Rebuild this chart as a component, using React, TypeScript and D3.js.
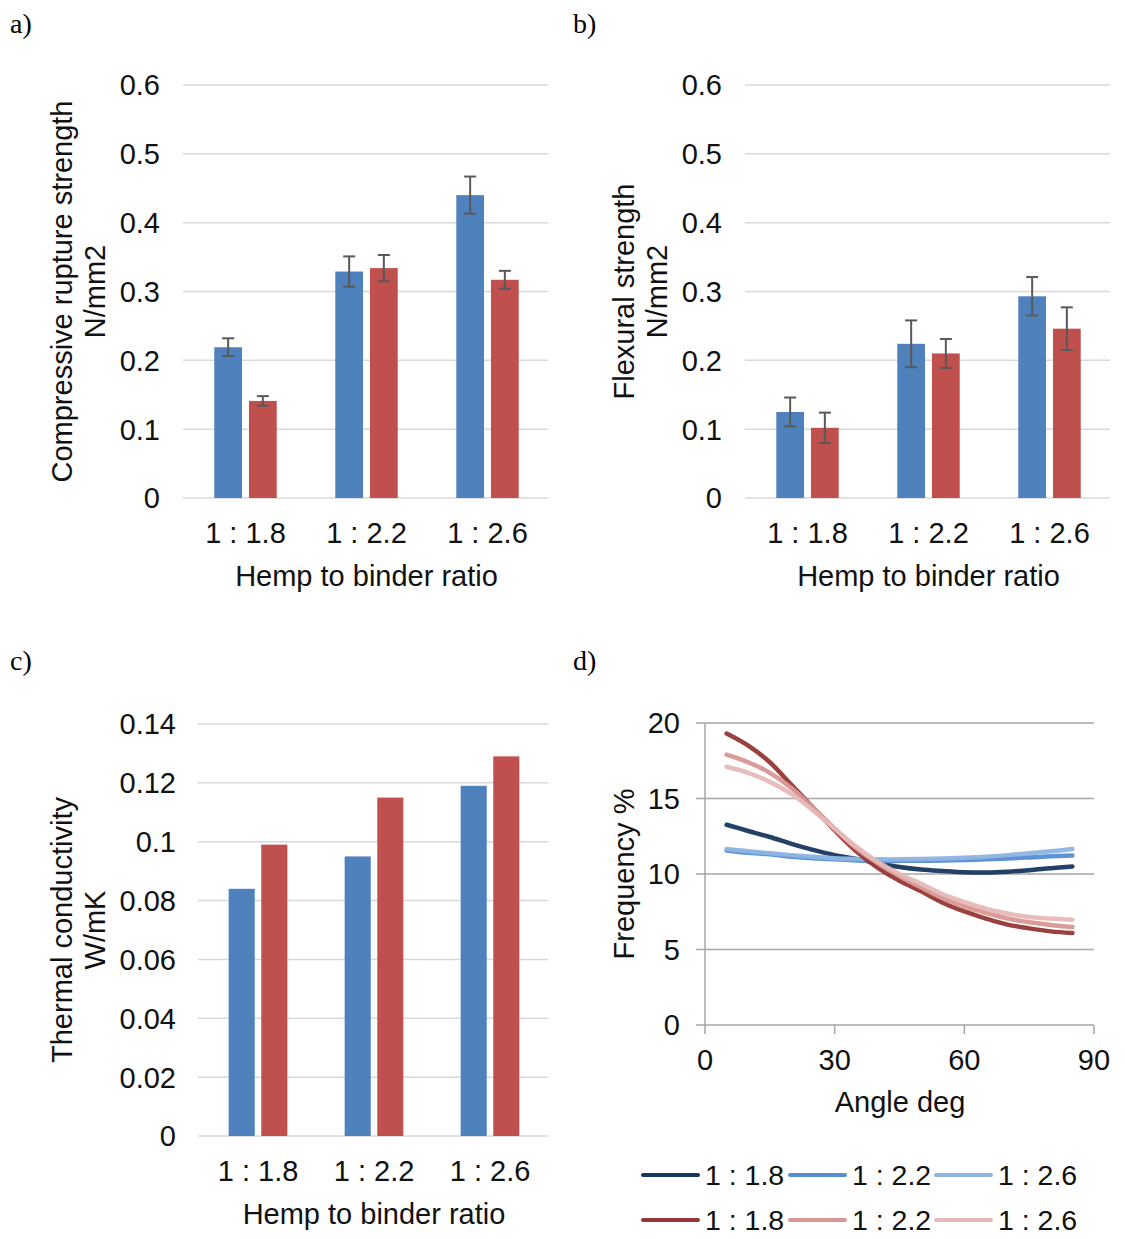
import React from "react";
import * as d3 from "d3";

const categories = ["1 : 1.8", "1 : 2.2", "1 : 2.6"];
const series = ["blue", "red"];

const compBlue = [0.219, 0.329, 0.44];
const compBlueErr = [0.013, 0.022, 0.027];
const compRed = [0.141, 0.334, 0.317];
const compRedErr = [0.007, 0.019, 0.013];

const flexBlue = [0.125, 0.224, 0.293];
const flexBlueErr = [0.021, 0.034, 0.028];
const flexRed = [0.102, 0.21, 0.246];
const flexRedErr = [0.022, 0.021, 0.031];

const thermBlue = [0.084, 0.095, 0.119];
const thermRed = [0.099, 0.115, 0.129];

const strengthTicks = [0, 0.1, 0.2, 0.3, 0.4, 0.5, 0.6];
const thermTicks = [0, 0.02, 0.04, 0.06, 0.08, 0.1, 0.12, 0.14];
const freqTicks = [0, 5, 10, 15, 20];
const angleTicks = [0, 30, 60, 90];

const angles = [5, 10, 15, 20, 25, 30, 35, 40, 45, 50, 55, 60, 65, 70, 75, 80, 85];
const freqB18 = [13.26, 12.85, 12.45, 12.0, 11.6, 11.25, 11.0, 10.72, 10.47, 10.3, 10.2, 10.12, 10.1, 10.15, 10.25, 10.38, 10.5];
const freqB22 = [11.55, 11.4, 11.3, 11.15, 11.05, 10.97, 10.9, 10.87, 10.87, 10.88, 10.9, 10.93, 10.97, 11.03, 11.1, 11.17, 11.22];
const freqB26 = [11.65, 11.5, 11.38, 11.25, 11.14, 11.05, 11.0, 10.97, 10.97, 11.0, 11.03, 11.08, 11.15, 11.25, 11.37, 11.5, 11.65];
const freqR18 = [19.3, 18.5, 17.4, 15.9, 14.4, 12.9, 11.5, 10.4, 9.55, 8.85, 8.1, 7.52, 7.05, 6.65, 6.4, 6.2, 6.09];
const freqR22 = [17.9, 17.4, 16.7, 15.7, 14.4, 13.0, 11.7, 10.7, 9.85, 9.1, 8.4, 7.85, 7.42, 7.05, 6.8, 6.62, 6.49];
const freqR26 = [17.1, 16.7, 16.1, 15.3, 14.2, 13.0, 11.8, 10.8, 10.0, 9.35, 8.66, 8.15, 7.7, 7.38, 7.15, 7.05, 6.97];

const lineSeries = [
  { label: "1 : 1.8", values: freqB18, color: "#17375E" },
  { label: "1 : 2.2", values: freqB22, color: "#558ED5" },
  { label: "1 : 2.6", values: freqB26, color: "#8EB4E3" },
  { label: "1 : 1.8", values: freqR18, color: "#953735" },
  { label: "1 : 2.2", values: freqR22, color: "#D99694" },
  { label: "1 : 2.6", values: freqR26, color: "#E6B9B8" },
];

const BLUE = "#4F81BD";
const RED = "#C0504D";
const FONT = "'Liberation Sans', Arial, sans-serif";
const TXT = "#111";
const FS = 29;

type BarProps = {
  xRange: [number, number];
  yRange: [number, number];
  yMax: number;
  ticks: number[];
  blue: number[];
  red: number[];
  blueErr?: number[];
  redErr?: number[];
  titleLines: string[];
  titleX: number;
  tickRight: number;
  catY: number;
  pi: number;
};

function BarPanel(p: BarProps) {
  const x0 = d3
    .scaleBand<string>()
    .domain(categories)
    .range(p.xRange)
    .paddingInner(p.pi)
    .paddingOuter(p.pi / 2);
  const x1 = d3.scaleBand<string>().domain(series).range([0, x0.bandwidth()]).paddingInner(0.2);
  const y = d3.scaleLinear().domain([0, p.yMax]).range(p.yRange);
  const fmt = (v: number) => (v === 0 ? "0" : String(+v.toFixed(2)));
  const yMid = (p.yRange[0] + p.yRange[1]) / 2;
  const xMid = (p.xRange[0] + p.xRange[1]) / 2;
  const vals: Record<string, number[]> = { blue: p.blue, red: p.red };
  const errs: Record<string, number[] | undefined> = { blue: p.blueErr, red: p.redErr };
  const cols: Record<string, string> = { blue: BLUE, red: RED };
  return (
    <g>
      {p.ticks.map((t) => (
        <g key={t}>
          <line x1={p.xRange[0] - 2} x2={p.xRange[1]} y1={y(t)} y2={y(t)} stroke="#D9D9D9" strokeWidth={1.5} />
          <text x={p.tickRight} y={y(t)} dy="0.36em" textAnchor="end" fontSize={FS} fontFamily={FONT} fill={TXT}>
            {fmt(t)}
          </text>
        </g>
      ))}
      {categories.map((c, i) => (
        <g key={c} transform={`translate(${x0(c)},0)`}>
          {series.map((s) => {
            const v = vals[s][i];
            const e = errs[s];
            const bx = x1(s)!;
            const cx = bx + x1.bandwidth() / 2;
            return (
              <g key={s}>
                <rect x={bx} y={y(v)} width={x1.bandwidth()} height={y(0) - y(v)} fill={cols[s]} />
                {e && (
                  <g stroke="#595959" strokeWidth={2}>
                    <line x1={cx} x2={cx} y1={y(v + e[i])} y2={y(v - e[i])} />
                    <line x1={cx - 6} x2={cx + 6} y1={y(v + e[i])} y2={y(v + e[i])} />
                    <line x1={cx - 6} x2={cx + 6} y1={y(v - e[i])} y2={y(v - e[i])} />
                  </g>
                )}
              </g>
            );
          })}
          <text x={x0.bandwidth() / 2} y={p.catY} textAnchor="middle" fontSize={FS} fontFamily={FONT} fill={TXT}>
            {c}
          </text>
        </g>
      ))}
      <text x={xMid} y={p.catY + 43} textAnchor="middle" fontSize={FS} fontFamily={FONT} fill={TXT}>
        Hemp to binder ratio
      </text>
      {p.titleLines.map((t, k) => (
        <text
          key={k}
          transform={`translate(${p.titleX + k * 33},${yMid}) rotate(-90)`}
          textAnchor="middle"
          dy="0.36em"
          fontSize={FS}
          fontFamily={FONT}
          fill={TXT}
        >
          {t}
        </text>
      ))}
    </g>
  );
}

function LinePanel() {
  const x = d3.scaleLinear().domain([0, 90]).range([705, 1094]);
  const y = d3.scaleLinear().domain([0, 20]).range([1025, 723]);
  const line = d3
    .line<number>()
    .x((_, i) => x(angles[i]))
    .y((v) => y(v))
    .curve(d3.curveCatmullRom.alpha(0.5));
  const legendCols = [643, 790, 936];
  const legendRows = [1175, 1220];
  return (
    <g>
      {freqTicks.map((t) => (
        <g key={t}>
          <line x1={696} x2={1094} y1={y(t)} y2={y(t)} stroke="#A6A6A6" strokeWidth={1.5} />
          <text x={680} y={y(t)} dy="0.36em" textAnchor="end" fontSize={FS} fontFamily={FONT} fill={TXT}>
            {t}
          </text>
        </g>
      ))}
      <line x1={705} x2={705} y1={y(20)} y2={y(0)} stroke="#A6A6A6" strokeWidth={1.5} />
      {angleTicks.map((t) => (
        <g key={t}>
          <line x1={x(t)} x2={x(t)} y1={y(0)} y2={y(0) + 9} stroke="#A6A6A6" strokeWidth={1.5} />
          <text x={x(t)} y={1070} textAnchor="middle" fontSize={FS} fontFamily={FONT} fill={TXT}>
            {t}
          </text>
        </g>
      ))}
      <text x={900} y={1112} textAnchor="middle" fontSize={FS} fontFamily={FONT} fill={TXT}>
        Angle deg
      </text>
      <text
        transform={`translate(624,${(y(0) + y(20)) / 2}) rotate(-90)`}
        textAnchor="middle"
        dy="0.36em"
        fontSize={FS}
        fontFamily={FONT}
        fill={TXT}
      >
        Frequency %
      </text>
      {lineSeries.map((s, k) => (
        <path
          key={k}
          d={line(s.values) || ""}
          fill="none"
          stroke={s.color}
          strokeWidth={4.5}
          strokeLinecap="round"
          opacity={0.95}
        />
      ))}
      {lineSeries.map((s, k) => {
        const lx = legendCols[k % 3];
        const ly = legendRows[Math.floor(k / 3)];
        return (
          <g key={"lg" + k}>
            <line x1={lx} x2={lx + 55} y1={ly} y2={ly} stroke={s.color} strokeWidth={4} strokeLinecap="round" />
            <text x={lx + 62} y={ly} dy="0.36em" fontSize={28.5} fontFamily={FONT} fill={TXT}>
              {s.label}
            </text>
          </g>
        );
      })}
    </g>
  );
}

export default function App() {
  const serif = "'Liberation Serif', 'DejaVu Serif', serif";
  return (
    <svg
      width={1125}
      height={1239}
      style={{ position: "absolute", left: 0, top: 0, background: "#fff" }}
    >
      <rect width={1125} height={1239} fill="#fff" />
      <text x={10} y={33} fontSize={28} fontFamily={serif} fill="#000">a)</text>
      <text x={573} y={33} fontSize={28} fontFamily={serif} fill="#000">b)</text>
      <text x={10} y={670} fontSize={28} fontFamily={serif} fill="#000">c)</text>
      <text x={573} y={670} fontSize={28} fontFamily={serif} fill="#000">d)</text>
      <BarPanel
        xRange={[185, 548]}
        yRange={[498, 85]}
        yMax={0.6}
        ticks={strengthTicks}
        blue={compBlue}
        red={compRed}
        blueErr={compBlueErr}
        redErr={compRedErr}
        titleLines={["Compressive rupture strength", "N/mm2"]}
        titleX={62}
        tickRight={160}
        catY={543}
        pi={0.484}
      />
      <BarPanel
        xRange={[747, 1110]}
        yRange={[498, 85]}
        yMax={0.6}
        ticks={strengthTicks}
        blue={flexBlue}
        red={flexRed}
        blueErr={flexBlueErr}
        redErr={flexRedErr}
        titleLines={["Flexural strength", "N/mm2"]}
        titleX={624}
        tickRight={722}
        catY={543}
        pi={0.484}
      />
      <BarPanel
        xRange={[200, 548]}
        yRange={[1136, 724]}
        yMax={0.14}
        ticks={thermTicks}
        blue={thermBlue}
        red={thermRed}
        titleLines={["Thermal conductivity", "W/mK"]}
        titleX={62}
        tickRight={176}
        catY={1181}
        pi={0.494}
      />
      <LinePanel />
    </svg>
  );
}
